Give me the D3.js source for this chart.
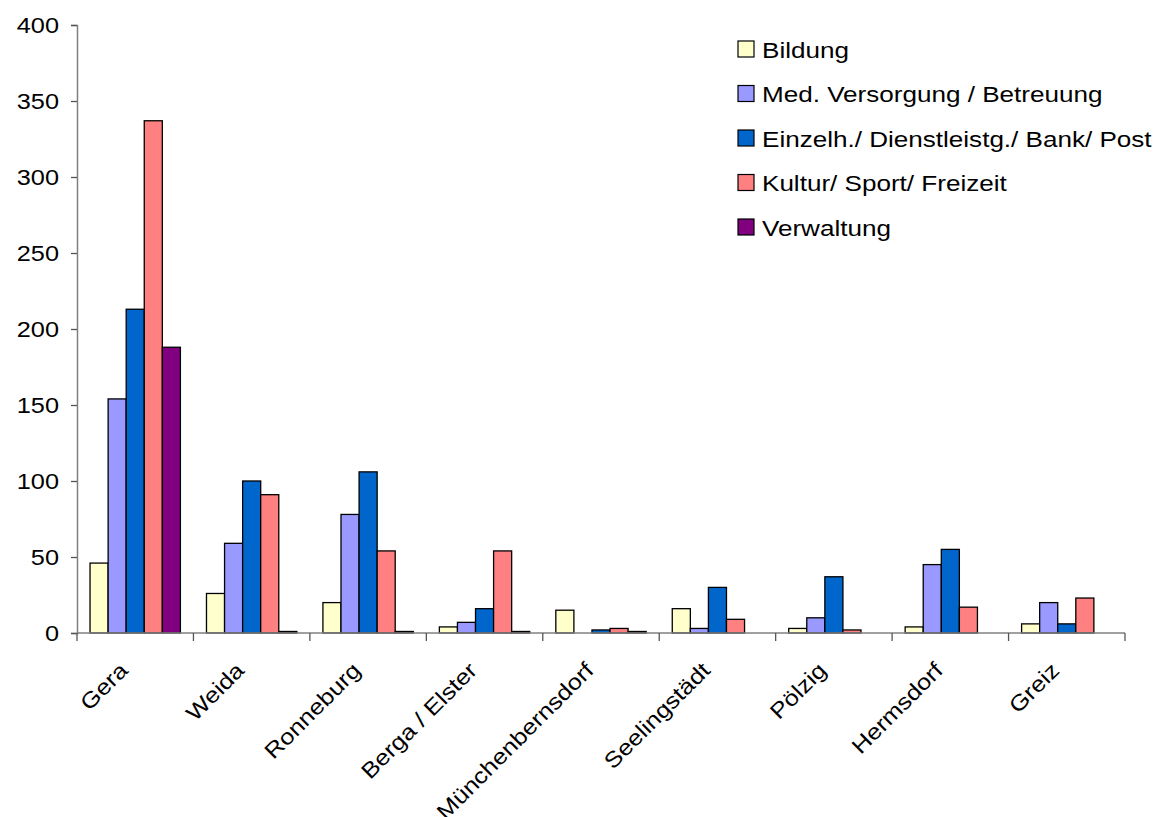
<!DOCTYPE html>
<html>
<head>
<meta charset="utf-8">
<script src="https://cdn.jsdelivr.net/npm/d3@7/dist/d3.min.js"></script>
<style>
  html, body { margin: 0; padding: 0; background: #fff; }
  svg { display: block; font-family: "Liberation Sans", Arial, sans-serif; }
</style>
</head>
<body>
<svg id="chart" width="1162" height="817"></svg>
<script>
// Orte (Kategorien)
const places = ["Gera", "Weida", "Ronneburg", "Berga / Elster", "Münchenbernsdorf",
                "Seelingstädt", "Pölzig", "Hermsdorf", "Greiz"];

// Reihen und Werte je Ort
const seriesNames = ["Bildung", "Med. Versorgung / Betreuung",
                     "Einzelh./ Dienstleistg./ Bank/ Post", "Kultur/ Sport/ Freizeit", "Verwaltung"];
const bildung     = [46, 26, 20, 4, 15, 16, 3, 4, 6];
const medVersorg  = [154, 59, 78, 7, 0, 3, 10, 45, 20];
const einzelh     = [213, 100, 106, 16, 2, 30, 37, 55, 6];
const kultur      = [337, 91, 54, 54, 3, 9, 2, 17, 23];
const verwaltung  = [188, 1, 1, 1, 1, 0, 0, 0, 0];
const seriesColors = ["#FFFFCC", "#9999FF", "#0066CC", "#FF8080", "#800080"];

const yTicks = [0, 50, 100, 150, 200, 250, 300, 350, 400];

const allSeries = [bildung, medVersorg, einzelh, kultur, verwaltung];

const svg = d3.select("#chart");
const plot = { left: 77, right: 1125, top: 25, bottom: 633 };
const fontSize = 22;
const stretch = 1.15;   // etwas breitere Schrift

const y = d3.scaleLinear().domain([0, 400]).range([plot.bottom, plot.top]);
const x = d3.scaleBand().domain(places).range([plot.left, plot.right]).padding(0);
const bw = x.bandwidth();
const gap = bw * 0.112;
const x1 = d3.scaleBand().domain(seriesNames).range([gap, bw - gap]).padding(0);

// Balken
const groups = svg.append("g").selectAll("g")
  .data(places)
  .join("g")
  .attr("transform", d => `translate(${x(d)},0)`);

groups.selectAll("rect")
  .data((p, i) => seriesNames.map((s, k) => ({ s, k, v: allSeries[k][i] })))
  .join("rect")
  .attr("x", d => x1(d.s))
  .attr("y", d => y(d.v))
  .attr("width", x1.bandwidth())
  .attr("height", d => y(0) - y(d.v))
  .attr("fill", d => seriesColors[d.k])
  .attr("stroke", d => d.v > 0 ? "#000" : "none")
  .attr("stroke-width", 1.3);

// Y-Achse
const yAxis = svg.append("g")
  .attr("transform", `translate(${plot.left},0)`)
  .call(d3.axisLeft(y).tickValues(yTicks).tickSize(6).tickPadding(0).tickFormat(d3.format("d")));
yAxis.select(".domain").attr("stroke", "#808080").attr("stroke-width", 1.5);
yAxis.selectAll(".tick line").attr("stroke", "#555").attr("stroke-width", 1.3);
yAxis.selectAll(".tick text")
  .attr("x", null)
  .attr("transform", `translate(-18,0) scale(${stretch},1)`)
  .attr("font-size", fontSize).attr("fill", "#000")
  .attr("font-family", "Liberation Sans, Arial, sans-serif");

// X-Achse mit Teilstrichen an den Kategoriegrenzen
const xAxisG = svg.append("g");
xAxisG.append("line")
  .attr("x1", plot.left).attr("x2", plot.right)
  .attr("y1", y(0)).attr("y2", y(0))
  .attr("stroke", "#808080").attr("stroke-width", 1.5);
const boundaries = places.map(p => x(p)).concat([x(places[places.length - 1]) + bw]);
xAxisG.selectAll("line.tick")
  .data(boundaries)
  .join("line")
  .attr("class", "tick")
  .attr("x1", d => d).attr("x2", d => d)
  .attr("y1", y(0)).attr("y2", y(0) + 8)
  .attr("stroke", "#555").attr("stroke-width", 1.3);

xAxisG.selectAll("text")
  .data(places)
  .join("text")
  .attr("transform", d => `translate(${x(d) + bw / 2 - 17},${y(0) + 28}) rotate(-45) scale(${stretch},1)`)
  .attr("text-anchor", "end")
  .attr("dy", "0.7em")
  .attr("font-size", fontSize)
  .attr("fill", "#000")
  .text(d => d);

// Legende
const legend = svg.append("g").attr("transform", "translate(738,41)");
const legendRow = legend.selectAll("g")
  .data(seriesNames)
  .join("g")
  .attr("transform", (d, i) => `translate(0,${i * 44.5})`);
legendRow.append("rect")
  .attr("width", 16).attr("height", 16)
  .attr("fill", (d, i) => seriesColors[i])
  .attr("stroke", "#000").attr("stroke-width", 1.2);
legendRow.append("text")
  .attr("transform", "translate(24,9) scale(1.185,1)")
  .attr("dy", "0.36em")
  .attr("font-size", 22)
  .attr("fill", "#000")
  .text(d => d);
</script>
</body>
</html>
